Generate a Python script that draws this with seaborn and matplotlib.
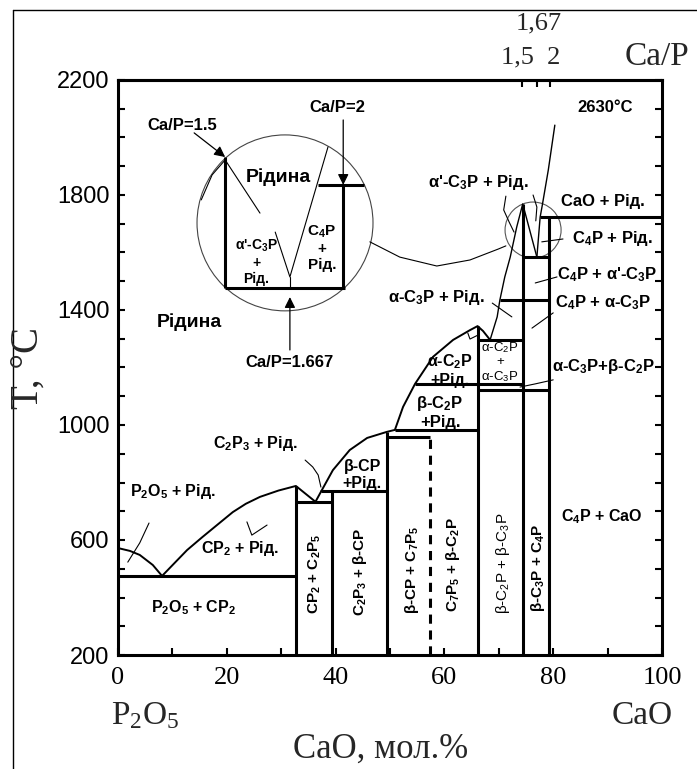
import matplotlib
matplotlib.use("Agg")
import matplotlib.pyplot as plt
import seaborn as sns
import numpy as np
import pandas as pd
from matplotlib.patches import Ellipse
from matplotlib.lines import Line2D

# ---------------- data (CaO mol.%, T in °C) ----------------
x_major = [0, 20, 40, 60, 80, 100]
x_minor = [10, 30, 50, 70, 90]
y_major = [200, 600, 1000, 1400, 1800, 2200]
y_minor = [300, 400, 500, 700, 800, 900, 1100, 1200, 1300, 1500, 1600, 1700, 1900, 2000, 2100]
cap_ticks = [74.3, 77.0, 79.4]          # Ca/P = 1.5, 1.67, 2

# compound (vertical) lines: composition and upper temperature
comp_x = [32.7, 39.3, 49.4, 66.1, 74.4, 79.2]
comp_top = [788, 771, 976, 1344, 1769, 1723]
c7p5_x = [57.4]
c7p5_top = [958]

# invariant (horizontal) lines
iso_T = [475, 733, 771, 958, 983, 1143, 1122, 1296, 1435, 1584, 1723]
iso_x0 = [0.0, 32.7, 37.4, 49.4, 50.9, 54.6, 66.1, 66.1, 70.2, 74.4, 77.6]
iso_x1 = [32.7, 39.3, 49.4, 57.4, 66.1, 74.4, 79.2, 74.4, 79.2, 79.2, 100.0]

# liquidus curves
liq_p2o5_x = [0.0, 2.2, 4.0, 6.4, 8.1]
liq_p2o5_T = [572, 562, 548, 513, 475]
liq_cp2_x = [8.1, 10.5, 12.7, 15.5, 18.2, 21.1, 23.5, 26.1, 29.5, 32.7, 36.3]
liq_cp2_T = [475, 522, 565, 610, 652, 697, 726, 750, 772, 788, 733]
liq_c2p3_x = [36.3, 37.4]
liq_c2p3_T = [733, 771]
liq_cp_x = [37.4, 39.5, 42.6, 45.8, 49.4, 50.9]
liq_cp_T = [771, 843, 913, 955, 976, 983]
liq_c2p_x = [50.9, 52.4, 54.6, 57.9, 61.6, 64.7, 66.1, 67.1, 68.4]
liq_c2p_T = [983, 1063, 1143, 1237, 1296, 1330, 1344, 1327, 1296]
liq_c3p_x = [68.4, 69.7, 70.2, 71.1, 72.1, 73.3, 74.4, 77.0]
liq_c3p_T = [1296, 1376, 1435, 1515, 1584, 1689, 1769, 1584]
liq_cao_x = [77.0, 77.6, 78.0, 79.1, 80.3]
liq_cao_T = [1584, 1723, 1765, 1887, 2043]

# magnified inset (schematic) around Ca/P = 1.5 ... 2
inset_v_x = [19.7, 41.4]
inset_v_T0 = [1477, 1477]
inset_v_T1 = [1932, 1835]
inset_h_T = [1477, 1835]
inset_h_x0 = [19.7, 36.8]
inset_h_x1 = [41.7, 45.2]
inset_liq1_x = [19.7, 26.1]
inset_liq1_T = [1922, 1737]
inset_liq2_x = [28.9, 31.6, 38.6]
inset_liq2_T = [1671, 1515, 1967]
inset_eut_x = [31.6, 31.6]
inset_eut_T = [1515, 1477]
inset_edge_x = [19.7, 17.3, 15.3]
inset_edge_T = [1922, 1870, 1783]

# leader lines
leaders = [
    ([5.7, 4.0, 1.8], [659, 590, 523]),
    ([23.7, 24.6, 27.4], [663, 617, 652]),
    ([34.4, 35.8, 36.8, 37.3], [878, 854, 826, 784]),
    ([64.3, 64.7, 66.2], [1320, 1299, 1313]),
    ([68.8, 72.4], [1424, 1376]),
    ([73.9, 76.7, 80.0], [1132, 1143, 1157]),
    ([76.1, 80.0], [1337, 1390]),
    ([76.7, 80.7], [1494, 1515]),
    ([77.9, 81.8], [1637, 1647]),
    ([71.3, 70.9, 71.9, 72.8], [1796, 1748, 1706, 1671]),
    ([76.3, 77.0, 76.8], [1800, 1758, 1710]),
]
link_x = [46.3, 51.8, 58.6, 64.7, 69.9, 71.3]
link_T = [1637, 1584, 1553, 1574, 1612, 1623]

# ---------------- figure ----------------
sns.set_theme(style="white")
SANS = ["Liberation Sans", "DejaVu Sans"]
SERIF = ["Liberation Serif", "DejaVu Serif"]
plt.rcParams["font.family"] = SANS
plt.rcParams["mathtext.fontset"] = "custom"
plt.rcParams["mathtext.rm"] = "Liberation Serif"
plt.rcParams["mathtext.it"] = "Liberation Serif:italic"
plt.rcParams["mathtext.bf"] = "Liberation Sans:bold"
plt.rcParams["mathtext.sf"] = "Liberation Sans"

W, H = 697, 769
fig = plt.figure(figsize=(W / 100, H / 100), dpi=100)
fig.patch.set_facecolor("white")
ax = fig.add_axes([118 / W, 1 - 655 / H, 544 / W, 575 / H])
ax.set_facecolor("white")
ax.set_xlim(0, 100)
ax.set_ylim(200, 2200)

K = "black"
LW_THICK = 2.2
LW_MED = 1.4
LW_THIN = 0.8

# liquidus curves through seaborn
curves_med = [(liq_p2o5_x, liq_p2o5_T), (liq_cp2_x, liq_cp2_T), (liq_c2p3_x, liq_c2p3_T),
              (liq_cp_x, liq_cp_T), (liq_c2p_x, liq_c2p_T)]
curves_thin = [(liq_c3p_x, liq_c3p_T), (liq_cao_x, liq_cao_T)]


def to_df(segs):
    rows = []
    for i, (xs, ts) in enumerate(segs):
        for xv, tv in zip(xs, ts):
            rows.append({"x": xv, "T": tv, "seg": i})
    return pd.DataFrame(rows)


sns.lineplot(data=to_df(curves_med), x="x", y="T", units="seg", estimator=None, sort=False,
             color=K, lw=LW_MED, ax=ax, legend=False)
sns.lineplot(data=to_df(curves_thin), x="x", y="T", units="seg", estimator=None, sort=False,
             color=K, lw=1.0, ax=ax, legend=False)
sns.lineplot(data=to_df(leaders + [(link_x, link_T)]), x="x", y="T", units="seg",
             estimator=None, sort=False, color=K, lw=LW_THIN, ax=ax, legend=False)

# compound lines
ax.vlines(comp_x, 200, comp_top, colors=K, lw=LW_THICK)
ax.vlines(c7p5_x, 200, c7p5_top, colors=K, lw=LW_THICK, linestyles=(0, (3, 2.2)))
ax.hlines(iso_T, iso_x0, iso_x1, colors=K, lw=LW_THICK)

# inset
ax.add_patch(Ellipse((30.7, 1703), 32.35, 612, fill=False, ec="#444444", lw=LW_THIN))
ax.add_patch(Ellipse((76.3, 1678), 10.3, 195, fill=False, ec="#555555", lw=LW_THIN))
ax.vlines(inset_v_x, inset_v_T0, inset_v_T1, colors=K, lw=LW_THICK)
ax.hlines(inset_h_T, inset_h_x0, inset_h_x1, colors=K, lw=LW_THICK)
ax.plot(inset_liq1_x, inset_liq1_T, color=K, lw=LW_THIN)
ax.plot(inset_liq2_x, inset_liq2_T, color=K, lw=LW_THIN)
ax.plot(inset_eut_x, inset_eut_T, color=K, lw=LW_THIN)
ax.plot(inset_edge_x, inset_edge_T, color=K, lw=LW_THIN)

arrow = dict(arrowstyle="-|>", color=K, lw=0.9, mutation_scale=16, shrinkA=0, shrinkB=0)
ax.annotate("", xy=(19.7, 1932), xytext=(14.0, 2016), arrowprops=arrow)
ax.annotate("", xy=(41.4, 1835), xytext=(41.4, 2061), arrowprops=arrow)
ax.annotate("", xy=(31.6, 1445), xytext=(31.6, 1261), arrowprops=arrow)

SUB = {"₂": "2", "₃": "3", "₄": "4", "₅": "5", "₇": "7"}


def fmt(s, weight):
    cmd = r"\mathbf" if weight == "bold" else r"\mathsf"
    for k, v in SUB.items():
        s = s.replace(k, "$_{" + cmd + "{" + v + "}}$")
    return s


def lab(s, x, y, size=10, rot=0, weight="bold", color=K):
    ax.text(x, y, fmt(s, weight), fontsize=size, rotation=rot, ha="center", va="center",
            fontweight=weight, family=SANS, color=color, linespacing=1.15)


lab("Ca/P=1.5", 11.9, 2040, 12)
lab("Ca/P=2", 40.3, 2103, 12)
lab("Ca/P=1.667", 31.6, 1216, 12)
lab("Рідина", 29.4, 1863, 14)
lab("α'-C₃P\n+\nРід.", 25.4, 1567, 10)
lab("C₄P\n+\nРід.", 37.5, 1616, 11)

lab("Рідина", 13.2, 1358, 14)
lab("2630°C", 89.5, 2103, 12)
lab("α'-C₃P + Рід.", 66.2, 1845, 12)
lab("CaO + Рід.", 89.2, 1776, 12)
lab("C₄P + Рід.", 90.8, 1650, 12)
lab("C₄P + α'-C₃P", 89.9, 1522, 12)
lab("C₄P + α-C₃P", 89.2, 1424, 12)
lab("α-C₃P + Рід.", 58.6, 1445, 12)
lab("α-C₂P\n+\nα-C₃P", 70.2, 1219, 9.5, weight="normal")
lab("α-C₃P+β-C₂P", 89.2, 1202, 12)
lab("α-C₂P\n+Рід.", 61.0, 1191, 11.5)
lab("β-C₂P\n+Рід.", 59.2, 1045, 12)
lab("β-CP\n+Рід.", 44.9, 826, 11.5)
lab("C₂P₃ + Рід.", 25.2, 937, 11.5)
lab("P₂O₅ + Рід.", 10.1, 770, 11.5)
lab("CP₂ + Рід.", 22.4, 572, 11.5)
lab("P₂O₅ + CP₂", 13.8, 363, 11.5)
lab("C₄P + CaO", 89.0, 680, 11.5)
lab("CP₂ + C₂P₅", 36.2, 482, 11, 90)
lab("C₂P₃ + β-CP", 44.5, 489, 11, 90)
lab("β-CP + C₇P₅", 54.0, 496, 11, 90)
lab("C₇P₅ + β-C₂P", 61.6, 513, 11, 90)
lab("β-C₂P + β-C₃P", 70.8, 520, 11, 90, weight="normal")
lab("β-C₃P + C₄P", 77.2, 503, 11, 90)

# axes styling
for s in ax.spines.values():
    s.set_visible(True)
    s.set_color(K)
    s.set_linewidth(LW_THICK)
ax.set_xticks(x_major)
ax.set_xticks(x_minor, minor=True)
ax.set_xticklabels([str(v) for v in x_major], fontsize=19, family=SERIF)
ax.set_yticks(y_major)
ax.set_yticks(y_minor, minor=True)
ax.set_yticklabels([str(v) for v in y_major], fontsize=17, family=SANS)
ax.tick_params(axis="both", which="both", direction="in", length=5, width=1.5,
               color=K, labelcolor=K)
ax.tick_params(axis="y", which="both", left=True, right=True, pad=6)
ax.tick_params(axis="x", which="both", bottom=True, top=False, pad=9)
ax.set_xlabel("")
ax.set_ylabel("")
ax.grid(False)

sec = ax.secondary_xaxis("top")
sec.set_xticks(cap_ticks)
sec.set_xticklabels([])
sec.tick_params(direction="in", length=5, width=1.5, color=K)
sec.spines["top"].set_linewidth(LW_THICK)

# outer texts
fig.text(539 / W, 1 - 23 / H, "1,67", fontsize=19, family=SERIF, ha="center", va="center")
fig.text(531 / W, 1 - 57 / H, "1,5  2", fontsize=19, family=SERIF, ha="center", va="center")
fig.text(657 / W, 1 - 57 / H, "Ca/P", fontsize=24, family=SERIF, ha="center", va="center")
fig.text(28 / W, 1 - 368 / H, "T, °C", fontsize=28, family=SERIF, rotation=90,
         ha="center", va="center")
fig.text(381 / W, 1 - 749 / H, "CaO, мол.%", fontsize=25, family=SERIF,
         ha="center", va="center")
fig.text(145 / W, 1 - 716 / H, r"P$_\mathrm{2}$O$_\mathrm{5}$", fontsize=24, family=SERIF,
         ha="center", va="center")
fig.text(642 / W, 1 - 716 / H, "CaO", fontsize=24, family=SERIF, ha="center", va="center")

# picture frame
fig.add_artist(Line2D([13 / W, 13 / W], [0, 1 - 10 / H], color=K, lw=1.0))
fig.add_artist(Line2D([13 / W, 1], [1 - 10 / H, 1 - 10 / H], color=K, lw=1.0))

fig.savefig("out.png", dpi=100, facecolor="white")
